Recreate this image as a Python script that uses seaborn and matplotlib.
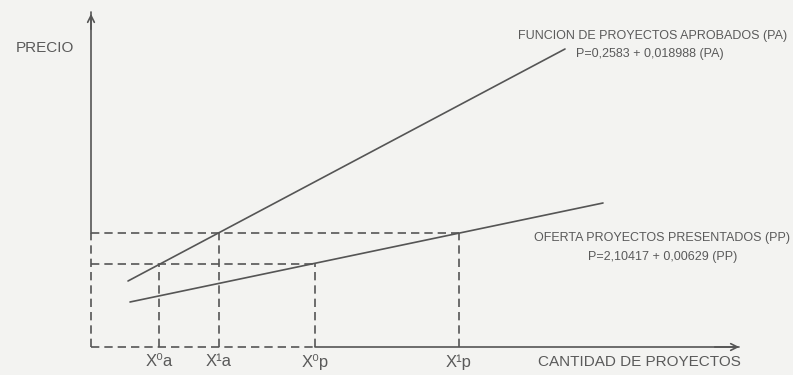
import matplotlib
matplotlib.use("Agg")
import matplotlib.pyplot as plt
import pandas as pd
import seaborn as sns

# schematic coordinates (arbitrary units)
pa_x = [3.7, 47.4]
pa_y = [6.6, 29.8]
pp_x = [3.9, 51.2]
pp_y = [4.5, 14.4]

mark_x = [6.8, 12.8, 22.4, 36.8]
mark_y = [8.3, 11.4, 8.3, 11.4]
mark_labels = ["X⁰a", "X¹a", "X⁰p", "X¹p"]

pa_title = "FUNCION DE PROYECTOS APROBADOS (PA)"
pa_eq = "P=0,2583 + 0,018988 (PA)"
pp_title = "OFERTA PROYECTOS PRESENTADOS (PP)"
pp_eq = "P=2,10417 + 0,00629 (PP)"

x_end = 65.1
y_end = 33.5

sns.set_theme(style="white")
plt.rcParams['font.family'] = ['Liberation Sans', 'DejaVu Sans']

ink = "#555555"
txt = "#5a5a5a"
bg = "#f3f3f1"

fig = plt.figure(figsize=(7.93, 3.75), dpi=100, facecolor=bg)
ax = fig.add_axes([0, 0, 1, 1])
ax.set_facecolor(bg)

lines = pd.DataFrame({
    "x": pa_x + pp_x,
    "y": pa_y + pp_y,
    "curve": ["PA"] * 2 + ["PP"] * 2,
})
sns.lineplot(data=lines, x="x", y="y", units="curve", estimator=None,
             color=ink, lw=1.2, ax=ax)

dash = (0, (5, 3))
# axes
ax.plot([0, 0], [mark_y[1], y_end], color=ink, lw=1.2)
ax.plot([0, 0], [0, mark_y[1]], color=ink, lw=1.2, ls=dash)
ax.plot([0, mark_x[2]], [0, 0], color=ink, lw=1.2, ls=dash)
ax.plot([mark_x[2], x_end - 0.3], [0, 0], color=ink, lw=1.2)
ax.annotate("", xy=(0, y_end + 0.1), xytext=(0, y_end - 2),
            arrowprops=dict(arrowstyle="->", color=ink, lw=1.2, mutation_scale=12))
ax.annotate("", xy=(x_end, 0), xytext=(x_end - 3, 0),
            arrowprops=dict(arrowstyle="->", color=ink, lw=1.2, mutation_scale=12))

# guide lines
ax.plot([0, mark_x[2]], [mark_y[0]] * 2, color=ink, lw=1.2, ls=dash)
ax.plot([0, mark_x[3]], [mark_y[1]] * 2, color=ink, lw=1.2, ls=dash)
for mx, my, lab in zip(mark_x, mark_y, mark_labels):
    ax.plot([mx, mx], [0, my], color=ink, lw=1.2, ls=dash)
    ax.text(mx, -1.5, lab, ha="center", va="center", fontsize=12, color=txt)

ax.text(-4.6, 29.9, "PRECIO", ha="center", va="center", fontsize=11, color=txt)
ax.text(44.7, -1.5, "CANTIDAD DE PROYECTOS", ha="left", va="center", fontsize=11, color=txt)
ax.text(69.6, 31.1, pa_title, ha="right", va="center", fontsize=9, color=txt)
ax.text(55.9, 29.3, pa_eq, ha="center", va="center", fontsize=9, color=txt)
ax.text(69.9, 10.9, pp_title, ha="right", va="center", fontsize=9, color=txt)
ax.text(57.2, 9.0, pp_eq, ha="center", va="center", fontsize=9, color=txt)

ax.set_xlim(-9.1, 70.2)
ax.set_ylim(-2.8, 34.7)
ax.axis("off")

fig.savefig("out.png", dpi=100, facecolor=bg)
